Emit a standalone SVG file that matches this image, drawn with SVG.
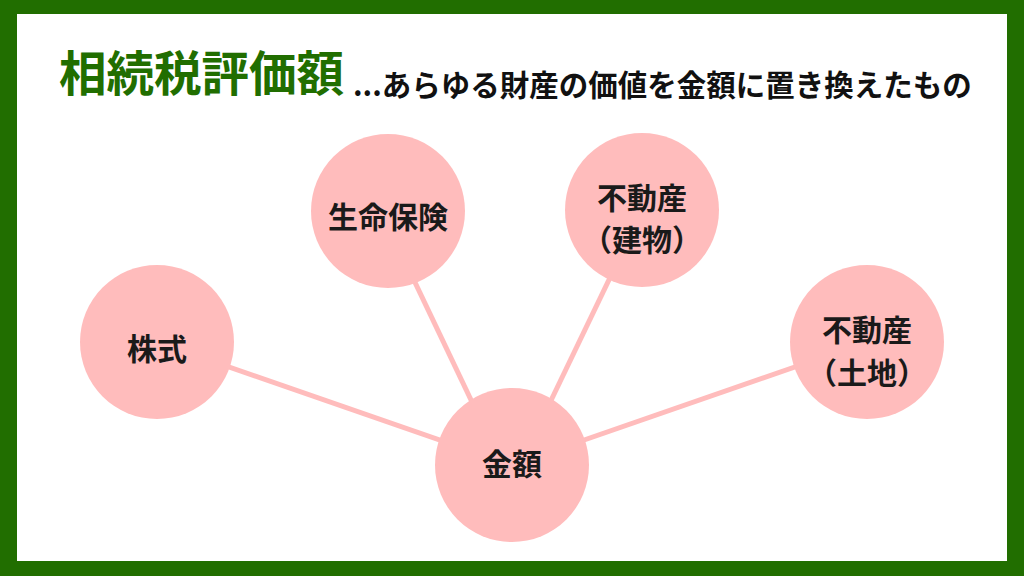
<svg xmlns="http://www.w3.org/2000/svg" width="1024" height="576" viewBox="0 0 1024 576">
<style>
.node{fill:#ffbcbc}
.lbl{font-family:"Noto Sans CJK JP","Noto Sans CJK SC",sans-serif;font-weight:700;font-size:30px;fill:#1a1a1a;text-anchor:middle;dominant-baseline:central}
.edge{stroke:#ffbcbc;stroke-width:5;fill:none}
</style>
<rect x="0" y="0" width="1024" height="576" fill="#216e00"/>
<rect x="17" y="14" width="990" height="547" fill="#ffffff"/>
<text x="59" y="91" font-family="Noto Sans CJK JP, sans-serif" font-weight="700" font-size="47.5" fill="#216e00">相続税評価額</text>
<text x="353" y="96" font-family="Noto Sans CJK JP, sans-serif" font-weight="700" font-size="29.5" fill="#111111">...あらゆる財産の価値を金額に置き換えたもの</text>
<g id="connectors">
<line class="edge" x1="157" y1="342" x2="512" y2="465"/>
<line class="edge" x1="381" y1="211" x2="502" y2="465"/>
<line class="edge" x1="643" y1="209" x2="520" y2="465"/>
<line class="edge" x1="867" y1="342" x2="512" y2="465"/>
</g>
<g id="kabushiki"><circle class="node" cx="157" cy="342" r="77"/><text class="lbl" x="157" y="347">株式</text></g>
<g id="seimei"><circle class="node" cx="388" cy="211" r="77"/><text class="lbl" x="388" y="215">生命保険</text></g>
<g id="tatemono"><circle class="node" cx="642" cy="210" r="77"/><text class="lbl" x="642" y="196">不動産</text><text class="lbl" x="642" y="238">（建物）</text></g>
<g id="tochi"><circle class="node" cx="867" cy="342" r="77"/><text class="lbl" x="867" y="328">不動産</text><text class="lbl" x="867" y="371">（土地）</text></g>
<g id="kingaku"><circle class="node" cx="512" cy="465" r="77"/><text class="lbl" x="512" y="462">金額</text></g>
</svg>
